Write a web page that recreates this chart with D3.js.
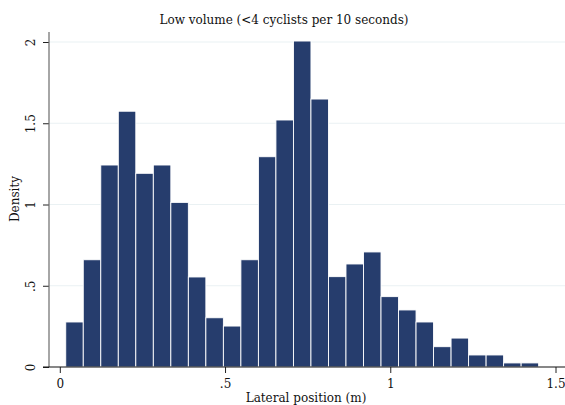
<!DOCTYPE html>
<html>
<head>
<meta charset="utf-8">
<script src="https://cdn.jsdelivr.net/npm/d3@7/dist/d3.min.js"></script>
<style>
  html, body { margin: 0; padding: 0; background: #fff; }
  svg { display: block; }
  text { font-family: "DejaVu Serif", serif; fill: #111; }
</style>
</head>
<body>
<script>
// Histogram of lateral position (m), low-volume traffic
const binStart = 0.018;
const binWidth = 0.053;
const densities = [0.277, 0.660, 1.243, 1.574, 1.192, 1.243, 1.013, 0.554, 0.303, 0.252,
                   0.660, 1.294, 1.520, 2.006, 1.649, 0.556, 0.634, 0.708, 0.433, 0.351,
                   0.277, 0.125, 0.178, 0.074, 0.074, 0.025, 0.025];
const xTicks = [0, 0.5, 1, 1.5];
const xTickLabels = ["0", ".5", "1", "1.5"];
const yTicks = [0, 0.5, 1, 1.5, 2];
const yTickLabels = ["0", ".5", "1", "1.5", "2"];
const title = "Low volume (<4 cyclists per 10 seconds)";
const xTitle = "Lateral position (m)";
const yTitle = "Density";

const W = 565, H = 405;
const svg = d3.select("body").append("svg").attr("width", W).attr("height", H);

const x = d3.scaleLinear().domain([0, 1.5]).range([59.8, 555.5]);
const y = d3.scaleLinear().domain([0, 2]).range([367, 42]);
const axisX = 49, right = 565;
const fs = 12;

// horizontal grid lines
svg.append("g").selectAll("line").data(yTicks.filter(d => d > 0)).join("line")
  .attr("x1", axisX).attr("x2", right)
  .attr("y1", d => y(d)).attr("y2", d => y(d))
  .attr("stroke", "#eaf1f3").attr("stroke-width", 1.2);

// bars
const bins = densities.map((v, i) => ({x0: binStart + i * binWidth, x1: binStart + (i + 1) * binWidth, v}));
svg.append("g").selectAll("rect").data(bins).join("rect")
  .attr("x", d => x(d.x0))
  .attr("width", d => x(d.x1) - x(d.x0))
  .attr("y", d => y(d.v))
  .attr("height", d => y(0) - y(d.v))
  .attr("fill", "#263d6d")
  .attr("stroke", "#ffffff")
  .attr("stroke-width", 0.9);

// y axis
const yAxis = d3.axisLeft(y).tickValues(yTicks).tickFormat((d, i) => yTickLabels[i]).tickSize(6);
const gy = svg.append("g").attr("transform", `translate(${axisX},0)`).call(yAxis);
gy.select(".domain").remove();
gy.append("line").attr("x1", 0).attr("x2", 0).attr("y1", 32).attr("y2", 367)
  .attr("stroke", "#6b6b6b").attr("stroke-width", 1.2);
gy.selectAll(".tick line").attr("stroke", "#222");
gy.selectAll(".tick text")
  .attr("font-size", fs)
  .attr("text-anchor", "middle")
  .attr("x", 0).attr("y", 0).attr("dy", "0.35em")
  .attr("transform", "translate(-18,0) rotate(-90)");

// x axis
const xAxis = d3.axisBottom(x).tickValues(xTicks).tickFormat((d, i) => xTickLabels[i]).tickSize(6).tickPadding(6);
const gx = svg.append("g").attr("transform", `translate(0,367)`).call(xAxis);
gx.select(".domain").remove();
gx.append("line").attr("x1", 43).attr("x2", right).attr("y1", 0).attr("y2", 0)
  .attr("stroke", "#111").attr("stroke-width", 1.2);
gx.selectAll(".tick line").attr("stroke", "#222");
gx.selectAll(".tick text").attr("font-size", fs);

// titles
svg.append("text").attr("x", 284).attr("y", 24).attr("text-anchor", "middle")
  .attr("font-size", fs).text(title);
svg.append("text").attr("x", 306).attr("y", 402).attr("text-anchor", "middle")
  .attr("font-size", fs).text(xTitle);
svg.append("text").attr("transform", "translate(19,199) rotate(-90)").attr("text-anchor", "middle")
  .attr("font-size", fs).text(yTitle);
</script>
</body>
</html>
